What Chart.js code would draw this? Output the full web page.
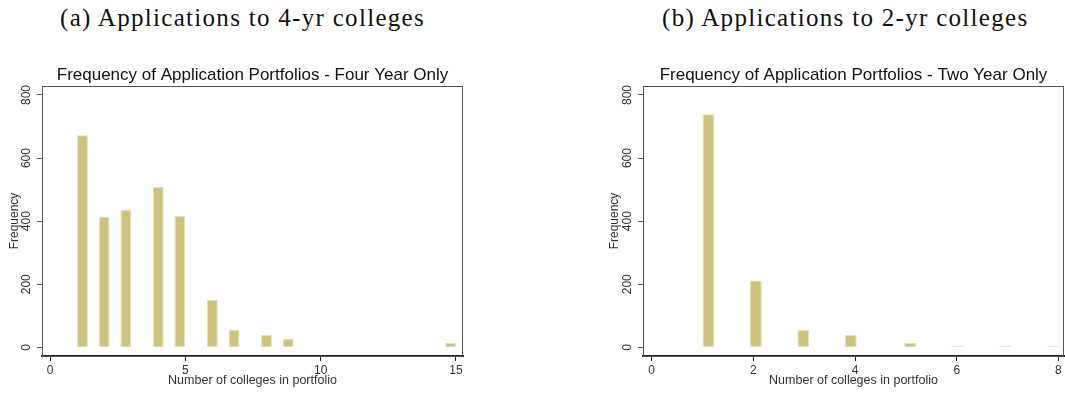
<!DOCTYPE html>
<html>
<head>
<meta charset="utf-8">
<script src="https://cdn.jsdelivr.net/npm/chart.js@4.4.1/dist/chart.umd.min.js"></script>
<style>
  body { margin: 0; background: #fff; width: 1065px; height: 394px; position: relative; overflow: hidden; }
  .cap { position: absolute; top: 4px; font-family: "Liberation Serif", serif; font-size: 25px; letter-spacing: 1.3px; color: #111; white-space: nowrap; }
  .box { position: absolute; top: 55px; height: 339px; }
</style>
</head>
<body>
<div class="cap" id="capA" style="left:60px">(a) Applications to 4-yr colleges</div>
<div class="cap" id="capB" style="left:662px">(b) Applications to 2-yr colleges</div>
<div class="box" style="left:0; width:480px"><canvas id="fourChart"></canvas></div>
<div class="box" style="left:600px; width:465px"><canvas id="twoChart"></canvas></div>
<script>
// histogram bins (centres of the non-empty bins) and frequencies
const fourYearBins = [1.2, 2.0, 2.8, 4.0, 4.8, 6.0, 6.8, 8.0, 8.8, 14.8];
const fourYearFreq = [672, 414, 435, 509, 417, 151, 55, 39, 26, 14];
const twoYearBins = [1.117, 2.05, 2.983, 3.917, 5.083, 6.017, 6.95, 7.883];
const twoYearFreq = [739, 212, 55, 39, 14, 5, 5, 5];

const yTicks = [0, 200, 400, 600, 800];
const fourXTicks = [0, 5, 10, 15];
const twoXTicks = [0, 2, 4, 6, 8];

const barFill = '#ccc37e';
const barEdge = '#e6e0b8';
const textCol = '#333';
const sans = '"Liberation Sans", Arial, sans-serif';

// frame round the plot + rotated y tick labels
const framePlugin = {
  id: 'frame',
  afterDraw(chart) {
    const { ctx, chartArea: a, scales } = chart;
    ctx.save();
    ctx.strokeStyle = '#555';
    ctx.lineWidth = 1;
    ctx.strokeRect(a.left + 0.5, a.top + 0.5, a.right - a.left - 1, a.bottom - a.top);
    ctx.fillStyle = textCol;
    ctx.font = '12px ' + sans;
    ctx.textAlign = 'center';
    ctx.textBaseline = 'middle';
    yTicks.forEach(v => {
      const y = scales.y.getPixelForValue(v);
      ctx.save();
      ctx.translate(a.left - 15, y);
      ctx.rotate(-Math.PI / 2);
      ctx.fillText(String(v), 0, 0);
      ctx.restore();
    });
    ctx.restore();
  }
};

function makeChart(id, title, bins, freq, xTicks, xMin, xMax, barPct, side) {
  const ctx = document.getElementById(id).getContext('2d');
  return new Chart(ctx, {
    type: 'bar',
    data: {
      datasets: [{
        data: bins.map((b, i) => ({ x: b, y: freq[i] })),
        backgroundColor: barFill,
        borderColor: barEdge,
        borderWidth: 1,
        barPercentage: barPct,
        categoryPercentage: 1
      }]
    },
    options: {
      responsive: true,
      maintainAspectRatio: false,
      animation: false,
      layout: { padding: { left: 0, right: side.right, top: 0, bottom: 0 } },
      plugins: {
        legend: { display: false },
        tooltip: { enabled: false },
        title: {
          display: true,
          text: title,
          fullSize: false,
          color: '#111',
          font: { family: sans, size: 17, weight: 'normal' },
          padding: { top: 10.6, bottom: 0 }
        }
      },
      scales: {
        x: {
          type: 'linear',
          offset: false,
          min: xMin,
          max: xMax,
          afterBuildTicks: s => { s.ticks = xTicks.map(v => ({ value: v })); },
          afterFit: s => { s.height = 38; },
          grid: { display: true, offset: false, drawOnChartArea: false, drawTicks: true, tickLength: 5, color: '#222', tickWidth: 1 },
          border: { display: true, color: '#222', width: 2 },
          ticks: { color: textCol, font: { family: sans, size: 12 }, padding: 2, maxRotation: 0 },
          title: {
            display: true,
            text: 'Number of colleges in portfolio',
            color: textCol,
            font: { family: sans, size: 12.5 },
            padding: { top: 0, bottom: 5.5 }
          }
        },
        y: {
          min: -27.6,
          max: 828.5,
          afterBuildTicks: s => { s.ticks = yTicks.map(v => ({ value: v })); },
          afterFit: s => { s.width = side.left; },
          grid: { display: true, drawOnChartArea: false, drawTicks: true, tickLength: 5, color: '#555' },
          border: { display: true, color: '#555', width: 1 },
          ticks: { display: false },
          title: {
            display: true,
            text: 'Frequency',
            color: textCol,
            font: { family: sans, size: 12 },
            padding: { top: 7, bottom: 0 }
          }
        }
      }
    },
    plugins: [framePlugin]
  });
}

makeChart('fourChart', 'Frequency of Application Portfolios - Four Year Only',
  fourYearBins, fourYearFreq, fourXTicks, -0.296, 15.26, 0.5, { left: 42, right: 17 });
makeChart('twoChart', 'Frequency of Application Portfolios - Two Year Only',
  twoYearBins, twoYearFreq, twoXTicks, -0.171, 8.11, 0.25, { left: 43, right: 1 });
</script>
</body>
</html>
